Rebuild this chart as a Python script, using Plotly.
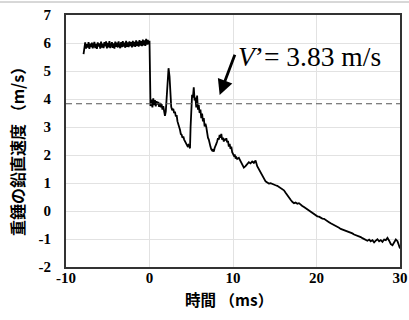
import plotly.graph_objects as go

# Hammer vertical velocity before impact (ms, m/s)
time_pre = [-7.9, -7.8, -7.7, -7.6, -7.5, -7.4, -7.3, -7.2, -7.1, -7.0,
            -6.9, -6.8, -6.7, -6.6, -6.5, -6.4, -6.3, -6.2, -6.1, -6.0,
            -5.9, -5.8, -5.7, -5.6, -5.5, -5.4, -5.3, -5.2, -5.1, -5.0,
            -4.9, -4.8, -4.7, -4.6, -4.5, -4.4, -4.3, -4.2, -4.1, -4.0,
            -3.9, -3.8, -3.7, -3.6, -3.5, -3.4, -3.3, -3.2, -3.1, -3.0,
            -2.9, -2.8, -2.7, -2.6, -2.5, -2.4, -2.3, -2.2, -2.1, -2.0,
            -1.9, -1.8, -1.7, -1.6, -1.5, -1.4, -1.3, -1.2, -1.1, -1.0,
            -0.9, -0.8, -0.7, -0.6, -0.5, -0.4, -0.3, -0.2, -0.1, 0.0]
vel_pre = [5.60, 5.92, 6.02, 5.80, 5.96, 5.84, 6.03, 5.79, 5.98, 5.86,
           6.01, 5.81, 5.95, 6.04, 5.82, 5.97, 5.79, 6.02, 5.87, 5.99,
           5.80, 6.05, 5.84, 5.98, 5.82, 6.03, 5.88, 6.06, 5.81, 6.00,
           5.85, 6.07, 5.82, 5.96, 6.03, 5.83, 5.99, 5.80, 6.05, 5.86,
           6.01, 5.84, 6.06, 5.89, 5.82, 6.03, 5.85, 6.07, 5.87, 6.01,
           5.83, 6.08, 5.86, 6.02, 5.85, 6.06, 5.89, 6.03, 5.84, 6.08,
           5.88, 6.04, 5.86, 6.09, 5.90, 6.05, 5.87, 6.10, 5.91, 6.07,
           5.89, 6.12, 5.92, 6.09, 5.90, 6.15, 5.94, 6.11, 5.95, 6.08]

# Hammer vertical velocity after impact (ms, m/s)
time_post = [0.05, 0.12, 0.25, 0.35, 0.45, 0.55, 0.65, 0.75, 0.85, 0.95, 1.05, 1.15,
             1.25, 1.35, 1.45, 1.55, 1.65, 1.75, 1.85, 1.95, 2.05, 2.15, 2.28, 2.40,
             2.50, 2.60, 2.72, 2.85, 2.95, 3.05, 3.15, 3.25, 3.35, 3.45, 3.55, 3.65,
             3.75, 3.85, 3.95, 4.05, 4.15, 4.25, 4.35, 4.45, 4.55, 4.65, 4.75, 4.85,
             4.92, 5.00, 5.10, 5.20, 5.30, 5.40, 5.50, 5.60, 5.70, 5.80, 5.90, 6.00,
             6.10, 6.20, 6.30, 6.40, 6.50, 6.60, 6.70, 6.80, 6.90, 7.00, 7.10, 7.20,
             7.30, 7.40, 7.50, 7.60, 7.70, 7.80, 7.90, 8.00, 8.10, 8.20, 8.30, 8.40,
             8.50, 8.60, 8.70, 8.80, 8.90, 9.00, 9.10, 9.20, 9.30, 9.40, 9.50, 9.60,
             9.70, 9.80, 9.90, 10.0, 10.1, 10.2, 10.3, 10.4, 10.5, 10.7, 10.9, 11.1,
             11.3, 11.5, 11.7, 11.9, 12.1, 12.3, 12.5, 12.7, 12.9, 13.1, 13.3, 13.5,
             13.7, 13.9, 14.1, 14.3, 14.5, 14.7, 14.9, 15.1, 15.3, 15.5, 15.7, 15.9,
             16.1, 16.3, 16.5, 16.7, 16.9, 17.1, 17.3, 17.5, 17.7, 17.9, 18.1, 18.3,
             18.5, 18.7, 18.9, 19.1, 19.3, 19.5, 19.7, 19.9, 20.1, 20.3, 20.5, 20.7,
             20.9, 21.1, 21.3, 21.5, 21.7, 21.9, 22.1, 22.3, 22.5, 22.7, 22.9, 23.1,
             23.3, 23.5, 23.7, 23.9, 24.1, 24.3, 24.5, 24.7, 24.9, 25.1, 25.3, 25.5,
             25.7, 25.9, 26.1, 26.3, 26.5, 26.7, 26.9, 27.1, 27.3, 27.5, 27.7, 27.9,
             28.1, 28.3, 28.5, 28.7, 28.9, 29.1, 29.3, 29.5, 29.7, 29.9, 30.0]
vel_post = [4.60, 3.75, 3.98, 3.70, 4.02, 3.78, 3.96, 3.74, 3.92, 3.80, 3.90, 3.72,
            3.86, 3.70, 3.82, 3.62, 3.74, 3.48, 3.40, 3.55, 4.10, 4.70, 5.10, 4.80,
            4.20, 3.72, 3.60, 3.65, 3.50, 3.55, 3.38, 3.42, 3.20, 3.12, 3.05, 2.90,
            2.75, 2.72, 2.62, 2.66, 2.55, 2.50, 2.42, 2.38, 2.32, 2.36, 2.26, 2.24,
            3.00, 3.90, 4.15, 4.05, 4.42, 3.95, 4.05, 3.70, 4.12, 3.62, 3.78, 3.50,
            3.62, 3.32, 3.48, 3.20, 3.32, 3.02, 3.12, 3.00, 2.78, 2.62, 2.55, 2.38,
            2.30, 2.20, 2.16, 2.20, 2.12, 2.25, 2.30, 2.40, 2.48, 2.60, 2.55, 2.72,
            2.62, 2.75, 2.55, 2.62, 2.48, 2.58, 2.52, 2.60, 2.45, 2.50, 2.30, 2.40,
            2.22, 2.30, 2.10, 2.05, 1.98, 2.02, 1.90, 1.92, 1.86, 1.90, 1.80, 1.68,
            1.55, 1.60, 1.66, 1.74, 1.70, 1.77, 1.72, 1.80, 1.60, 1.48, 1.38, 1.25,
            1.15, 1.06, 1.02, 0.98, 0.99, 0.96, 0.95, 0.92, 0.90, 0.86, 0.82, 0.78,
            0.74, 0.65, 0.55, 0.48, 0.40, 0.33, 0.28, 0.30, 0.26, 0.28, 0.22, 0.18,
            0.14, 0.10, 0.04, 0.00, -0.03, -0.06, -0.10, -0.16, -0.19, -0.20, -0.25, -0.27,
            -0.28, -0.33, -0.36, -0.40, -0.44, -0.47, -0.50, -0.52, -0.57, -0.60, -0.64, -0.66,
            -0.70, -0.71, -0.74, -0.76, -0.78, -0.80, -0.84, -0.86, -0.88, -0.90, -0.93, -0.97,
            -1.00, -1.04, -1.06, -1.02, -1.08, -1.04, -1.12, -1.06, -1.01, -1.08, -1.04, -1.10,
            -1.02, -1.04, -0.96, -1.06, -1.18, -1.22, -1.12, -1.02, -1.08, -1.22, -1.34]

V_PRIME = 3.83
x_ticks = [-10, 0, 10, 20, 30]
y_ticks = [-2, -1, 0, 1, 2, 3, 4, 5, 6, 7]

time_all = time_pre + time_post
vel_all = vel_pre + vel_post

fig = go.Figure()
fig.add_trace(go.Scatter(x=time_all, y=vel_all, mode="lines",
                         line=dict(color="black", width=1.8), showlegend=False))
# reference velocity V'
fig.add_trace(go.Scatter(x=[x_ticks[0], x_ticks[-1]], y=[V_PRIME, V_PRIME], mode="lines",
                         line=dict(color="#555555", width=1.2, dash="6px,4px"),
                         showlegend=False))

tick_font = dict(family="Liberation Serif", size=15, color="black", weight="bold")
axis_common = dict(showgrid=True, gridcolor="#e2e2e2", gridwidth=1, zeroline=False,
                   showline=True, mirror=True, linecolor="#333333", linewidth=2,
                   ticks="", tickfont=tick_font, automargin=False)

fig.update_layout(
    width=409, height=320,
    margin=dict(l=66, r=9, t=15, b=53),
    paper_bgcolor="white", plot_bgcolor="white",
    xaxis=dict(range=[-10, 30], tickvals=x_ticks, ticktext=[str(v) for v in x_ticks],
               ticklabelstandoff=-4, **axis_common),
    yaxis=dict(range=[-2, 7], tickvals=y_ticks, ticktext=[str(v) for v in y_ticks],
               ticklabelstandoff=10, **axis_common),
)

# axis titles
fig.add_annotation(text="重錘の鉛直速度 （m/s）", xref="paper", yref="paper",
                   x=-0.147, y=0.476, xanchor="center", yanchor="middle",
                   textangle=-90, showarrow=False,
                   font=dict(family="Noto Sans CJK JP", size=16, color="black", weight="bold"))
fig.add_annotation(text="時間 （ms）", xref="paper", yref="paper",
                   x=0.488, y=-0.126, xanchor="center", yanchor="middle", showarrow=False,
                   font=dict(family="Noto Sans CJK JP", size=15.5, color="black", weight="bold"))

# V' label and arrow
fig.add_annotation(text="<i>V</i>’= 3.83 m/s", x=10.4, y=5.52, xref="x", yref="y",
                   xanchor="left", yanchor="middle", showarrow=False,
                   font=dict(family="Liberation Serif", size=27.5, color="black"))
fig.add_annotation(text="", x=8.40, y=4.14, ax=10.29, ay=5.63, xref="x", yref="y",
                   axref="x", ayref="y", showarrow=True, arrowhead=2, arrowsize=1.1,
                   arrowwidth=2.8, arrowcolor="black", standoff=0)

# thin outer border line along the top
fig.add_shape(type="line", xref="paper", yref="paper", x0=-66 / 334, x1=343 / 334,
              y0=1 + 13 / 252, y1=1 + 13 / 252, line=dict(color="#b0b0b0", width=1))

fig.write_html("out.html")
